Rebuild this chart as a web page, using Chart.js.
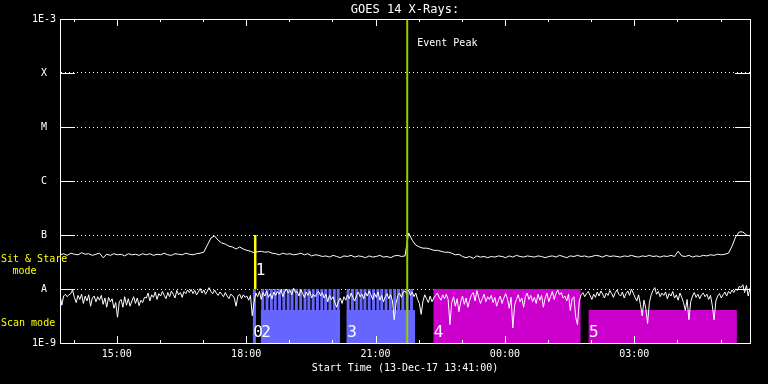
<!DOCTYPE html>
<html><head><meta charset="utf-8">
<script src="https://cdn.jsdelivr.net/npm/chart.js@4.4.1/dist/chart.umd.min.js"></script>
<style>html,body{margin:0;padding:0;background:#000;}#wrap{width:768px;height:384px;}canvas{display:block;background:#000;}</style>
</head><body><div id="wrap"><canvas id="c" width="768" height="384"></canvas></div>
<script>
// ---- data (flux in units of 1E-9 W/m^2) ----
const startHour = 13 + 41/60;      // 13-Dec-17 13:41
const longStepMinutes = 5;
const shortStepMinutes = 2.5;
const longFlux = [
 43,45,42,46,44,43,47,44,45,42,44,46,
 38,44,42,45,43,44,41,45,43,44,42,45,
 43,45,42,44,43,46,43,42,45,44,43,46,
 44,43,45,46,48,65,88,96,80,71,68,62,
 60,55,60,55,52,50,47,49,50,48,49,46,
 45,43,46,44,45,43,44,46,43,45,41,43,
 42,40,41,39,42,40,38,41,40,42,39,41,
 40,38,41,39,40,42,39,40,38,41,42,40,
 41,109,80,65,60,57,57,55,52,52,50,48,
 48,46,43,44,40,38,40,37,41,39,40,38,
 40,39,41,40,38,41,39,42,40,39,41,40,
 39,41,40,38,40,41,39,42,40,38,41,40,
 42,40,41,39,40,42,41,39,42,40,41,40,
 39,41,40,42,40,39,41,40,42,40,41,39,
 41,40,42,40,50,41,40,42,39,41,40,42,
 41,43,42,44,43,44,46,62,92,114,114,100,
 96];
const shortFlux = [
 7.7,5.0,7.4,8.0,7.2,7.8,8.2,9.6,7.0,5.6,7.6,6.4,8.0,5.4,7.4,6.0,7.8,4.8,6.8,7.4,5.8,7.2,6.2,7.6,
 5.2,6.8,4.6,7.0,5.8,6.6,4.4,5.6,3.0,5.8,6.4,4.6,7.2,5.0,6.6,4.8,6.0,7.2,5.4,6.8,4.9,6.2,5.6,7.0,
 6.8,8.4,6.0,7.8,7.0,8.8,6.4,8.2,7.4,9.0,7.6,6.6,8.6,7.2,9.2,8.0,6.8,9.4,7.8,8.6,7.0,9.0,8.2,9.6,
 8.6,9.8,8.2,9.4,7.8,8.8,10.2,8.4,9.6,8.0,9.2,10.6,9.0,8.2,9.6,8.4,7.6,8.8,8.0,7.2,8.6,7.4,6.6,8.0,
 7.6,6.8,4.8,7.4,8.0,6.6,7.8,7.0,7.4,6.2,7.6,3.2,5.6,8.4,7.2,9.0,6.4,8.6,7.4,9.2,7.0,8.2,6.6,8.8,
 7.6,9.0,8.0,9.6,7.2,8.8,10.0,8.4,9.4,7.8,10.4,8.6,9.0,7.4,9.8,8.2,7.0,8.8,7.6,9.2,6.8,8.0,7.2,8.4,
 9.0,7.4,8.6,6.8,8.0,5.8,7.6,6.4,7.2,5.6,4.6,6.0,6.8,5.4,7.2,6.2,7.8,6.6,8.4,7.0,6.0,7.6,8.8,7.2,
 8.0,6.6,8.6,7.4,9.2,7.8,6.4,8.4,7.0,8.8,6.2,7.6,5.8,7.2,8.2,6.6,7.8,6.0,2.7,5.4,7.6,8.4,7.0,8.8,
 9.2,8.0,9.6,7.6,8.8,7.2,8.4,6.4,5.4,3.4,6.0,7.8,6.6,5.6,7.4,5.8,6.8,7.6,8.4,7.0,6.2,7.8,6.6,8.0,
 6.4,2.2,5.6,7.2,4.8,6.6,3.8,5.8,7.4,5.2,6.8,4.6,6.2,7.8,8.6,6.0,9.4,7.0,5.4,6.6,8.0,5.8,7.2,6.4,
 7.6,5.6,7.0,4.8,6.2,7.4,5.4,6.8,8.2,6.6,4.4,7.0,1.9,5.0,6.4,7.8,5.8,6.8,4.6,7.2,8.4,6.4,7.6,5.8,
 7.0,5.4,8.0,6.2,7.6,4.6,6.8,8.4,5.8,7.2,9.0,6.4,8.2,9.6,7.8,8.6,6.8,7.4,6.0,8.0,4.0,6.6,7.2,3.0,
 2.2,6.0,7.8,8.6,7.2,8.2,9.0,7.6,6.4,8.0,7.0,8.8,7.4,9.2,8.0,6.8,8.4,7.6,9.4,8.2,7.0,8.6,9.6,8.0,
 7.4,8.8,6.8,8.2,9.2,7.6,10.0,8.4,7.0,6.0,7.8,5.2,3.2,6.2,4.4,2.3,5.6,7.8,9.4,10.6,8.0,9.0,7.2,8.4,
 7.6,8.8,6.6,8.2,7.4,9.0,6.8,7.8,6.2,8.4,7.0,5.6,4.0,6.4,2.7,5.8,7.4,8.6,7.0,8.0,6.6,7.8,8.4,7.2,
 8.0,6.4,7.6,5.0,2.7,6.0,7.4,8.2,6.8,7.8,8.8,7.4,9.0,8.2,9.6,8.6,10.0,9.4,11.2,10.6,12.0,8.6,11.6,7.4,
 10.4];
const xTickHours = [14,15,16,17,18,19,20,21,22,23,24,25,26,27,28,29];
const xTickLabels = {15:'15:00',18:'18:00',21:'21:00',24:'00:00',27:'03:00'};
const yTickValues = [1,10,100,1e3,1e4,1e5,1e6];
const yTickLabels = ['1E-9','A','B','C','M','X','1E-3'];
const scanLabels = ['0','2','3','4','5'];
const scanStart  = [18.15, 18.336, 20.334, 22.339, 25.94];
const scanEnd    = [18.227, 20.178, 21.92, 25.754, 29.38];
const scanTop    = [10, 4.1, 4.1, 10, 4.1];
const stripeStart = [18.35,18.45,18.55,18.64,18.74,18.84,18.94,19.03,19.13,19.23,19.33,19.42,19.52,19.62,19.72,19.81,19.91,20.01,20.10,
                     20.33,20.43,20.53,20.63,20.72,20.82,20.92,21.02,21.11,21.21,21.31,21.41,21.50,21.60,21.70,21.80];
const stripeHours = 0.068;
const stripeTop = 10;
const sitStareHour = 18.21, sitStareLow = 10, sitStareHigh = 100;
const eventPeakHour = 21.735;
const fluxMin = 1, fluxMax = 1e6;

// ---- build ----
const longTimes = longFlux.map((_, i) => startHour + i * longStepMinutes / 60);
const shortTimes = shortFlux.map((_, i) => startHour + i * shortStepMinutes / 60);
const BLUE = '#6666ff', MAGENTA = '#cc00cc';
function rects(starts, ends, tops) {
  const pts = [];
  starts.forEach((s, i) => {
    pts.push({x:s, y:fluxMin}, {x:s, y:tops[i]}, {x:ends[i], y:tops[i]}, {x:ends[i], y:fluxMin});
  });
  return pts;
}
const area = c => ({backgroundColor:c, borderColor:'rgba(0,0,0,0)', borderWidth:0, pointRadius:0, tension:0, fill:'start', order:10});
const blueStripeStarts = [scanStart[0]].concat(stripeStart);
const blueStripeEnds = [scanEnd[0]].concat(stripeStart.map(s => s + stripeHours));
const blueStripeTops = [scanTop[0]].concat(stripeStart.map(() => stripeTop));

Chart.defaults.font.family = "'DejaVu Sans Mono', monospace";
Chart.defaults.font.size = 10;
Chart.defaults.color = '#fff';

const overlay = {
  id: 'overlay',
  afterDraw(chart) {
    const {ctx, chartArea: a, scales: {x, y}} = chart;
    ctx.save();
    ctx.strokeStyle = '#fff'; ctx.lineWidth = 1;
    ctx.strokeRect(a.left + 0.5, a.top + 0.5, a.right - a.left, a.bottom - a.top);
    ctx.beginPath();
    xTickHours.forEach(h => {
      const px = Math.round(x.getPixelForValue(h)) + 0.5;
      const len = xTickLabels[h] ? 7 : 3;
      ctx.moveTo(px, a.top); ctx.lineTo(px, a.top + len);
      ctx.moveTo(px, a.bottom); ctx.lineTo(px, a.bottom - len);
    });
    yTickValues.forEach(v => {
      const py = Math.round(y.getPixelForValue(v)) + 0.5;
      ctx.moveTo(a.left, py); ctx.lineTo(a.left + 15, py);
      ctx.moveTo(a.right, py); ctx.lineTo(a.right - 15, py);
    });
    ctx.stroke();
    // labels
    ctx.fillStyle = '#fff';
    ctx.textBaseline = 'middle';
    ctx.textAlign = 'left';
    ctx.font = "10px 'DejaVu Sans Mono'";
    ctx.fillText('Event Peak', x.getPixelForValue(eventPeakHour) + 10, a.top + 24);
    ctx.font = "16px 'DejaVu Sans Mono'";
    scanLabels.forEach((t, i) => ctx.fillText(t, x.getPixelForValue(scanStart[i]) + 0.5, y.getPixelForValue(1.53)));
    ctx.fillText('1', x.getPixelForValue(sitStareHour) + 0.5, y.getPixelForValue(21.5));
    ctx.fillStyle = '#ffff00';
    ctx.font = "10px 'DejaVu Sans Mono'";
    ctx.fillText('Sit & Stare', 1, y.getPixelForValue(36));
    ctx.textAlign = 'center';
    ctx.fillText('mode', 24.5, y.getPixelForValue(21.5));
    ctx.textAlign = 'left';
    ctx.fillText('Scan mode', 1, y.getPixelForValue(2.3));
    ctx.restore();
  }
};

new Chart(document.getElementById('c'), {
  type: 'line',
  data: {
    datasets: [
      Object.assign(area(BLUE), {data: rects(blueStripeStarts, blueStripeEnds, blueStripeTops)}),
      Object.assign(area(BLUE), {data: rects(scanStart.slice(1,3), scanEnd.slice(1,3), scanTop.slice(1,3))}),
      Object.assign(area(MAGENTA), {data: rects(scanStart.slice(3), scanEnd.slice(3), scanTop.slice(3))}),
      {data:[{x:sitStareHour,y:sitStareLow},{x:sitStareHour,y:sitStareHigh}], borderColor:'#ffff00', borderWidth:2.5, pointRadius:0, fill:false, order:6},
      {data: longTimes.map((t,i)=>({x:t, y:longFlux[i]})), borderColor:'#fff', borderWidth:1, pointRadius:0, tension:0, fill:false, order:5},
      {data: shortTimes.map((t,i)=>({x:t, y:shortFlux[i]})), borderColor:'#fff', borderWidth:1, pointRadius:0, tension:0, fill:false, order:5},
      {data:[{x:eventPeakHour,y:fluxMin},{x:eventPeakHour,y:fluxMax}], borderColor:'#99cc00', borderWidth:2, pointRadius:0, fill:false, order:1}
    ]
  },
  options: {
    responsive: false,
    animation: false,
    events: [],
    layout: {padding: {right: 18}},
    plugins: {
      legend: {display: false},
      tooltip: {enabled: false},
      title: {display: true, text: 'GOES 14 X-Rays:', color: '#fff', fullSize: false,
              font: {family: "'DejaVu Sans Mono', monospace", size: 12, weight: 'normal', lineHeight: '15px'},
              padding: {top: 2, bottom: 2}}
    },
    scales: {
      x: {
        type: 'linear', min: startHour, max: startHour + 16,
        afterBuildTicks: s => { s.ticks = xTickHours.map(v => ({value: v})); },
        afterFit: s => { s.height = 41; },
        grid: {display: false, drawTicks: false},
        border: {color: '#fff', width: 1},
        ticks: {autoSkip: false, maxRotation: 0, padding: 5, color: '#fff',
                callback: v => xTickLabels[Math.round(v)] || ''},
        title: {display: true, text: 'Start Time (13-Dec-17 13:41:00)', color: '#fff', padding: {top: 0, bottom: 10}}
      },
      y: {
        type: 'logarithmic', min: fluxMin, max: fluxMax,
        afterBuildTicks: s => { s.ticks = yTickValues.map(v => ({value: v})); },
        afterFit: s => { s.width = 60; },
        grid: {color: '#fff', lineWidth: 1, drawTicks: false},
        border: {color: '#fff', width: 1, dash: [1, 3]},
        ticks: {crossAlign: 'center', padding: 4, color: '#fff', callback: (v, i) => yTickLabels[i]}
      }
    }
  },
  plugins: [overlay]
});
</script></body></html>
